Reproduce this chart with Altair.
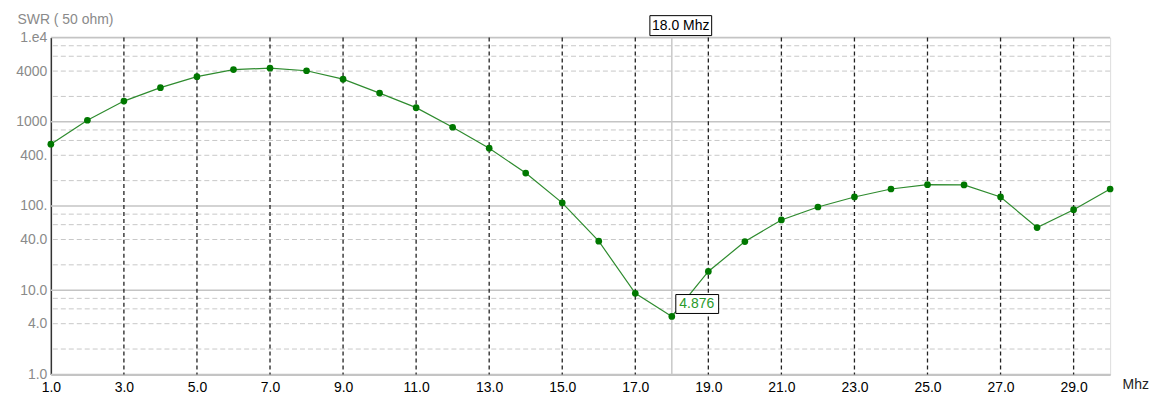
import altair as alt
import pandas as pd

# ---- data ----
freq = list(range(1, 31))
swr = [542, 1042, 1762, 2540, 3430, 4170, 4330, 4035, 3210, 2190,
       1472, 861, 486, 246, 109, 38.2, 9.17, 4.876, 16.7, 37.8,
       68.3, 97.2, 128, 159, 179, 178, 128, 55.4, 90.4, 159]

x_ticks = [1, 3, 5, 7, 9, 11, 13, 15, 17, 19, 21, 23, 25, 27, 29]
y_ticks = [1, 4, 10, 40, 100, 400, 1000, 4000, 10000]
y_tick_labels = ["1.0", "4.0", "10.0", "40.0", "100.", "400.", "1000", "4000", "1.e4"]
decade_lines = [1, 10, 100, 1000, 10000]
minor_lines = [m * d for d in [1, 10, 100, 1000] for m in [2, 4, 6, 8]]
vgrid = [3, 5, 7, 9, 11, 13, 15, 17, 19, 21, 23, 25, 27, 29]
cursor_freq = 18.0
cursor_swr = 4.876

W, H = 1063, 338

df = pd.DataFrame({"f": freq, "swr": swr})
xs = alt.Scale(domain=[1, 30], nice=False, zero=False)
ys = alt.Scale(type="log", domain=[1, 10000], nice=False)

ylab_expr = "".join(
    f"datum.value == {v} ? '{l}' : " for v, l in zip(y_ticks, y_tick_labels)
) + "''"

base_x = alt.X("f:Q", scale=xs, axis=alt.Axis(
    values=x_ticks, format=".1f", grid=False, ticks=False,
    labelColor="#000000", labelFont="Liberation Sans", labelFontSize=14,
    labelPadding=6, labelBaseline="top", labelFlush=False,
    domainColor="#b4b4b4", domainWidth=1.5,
    title="Mhz", titleFont="Liberation Sans", titleFontSize=14,
    titleFontWeight="normal", titleColor="#222222",
    titleX=1075, titleY=10, titleAlign="left", titleBaseline="middle"))
base_y = alt.Y("swr:Q", scale=ys, axis=alt.Axis(
    values=y_ticks, labelExpr=ylab_expr, grid=False, ticks=False,
    labelColor="#8a8a8a", labelFont="Liberation Sans", labelFontSize=14,
    labelPadding=4, labelFlush=False,
    domainColor="#333333", domainWidth=1.5,
    title="SWR ( 50 ohm)", titleFont="Liberation Sans", titleFontSize=14,
    titleFontWeight="normal", titleColor="#8a8a8a", titleAngle=0,
    titleX=-34, titleY=-18, titleAlign="left", titleBaseline="middle"))

minor = alt.Chart(pd.DataFrame({"v": minor_lines})).mark_rule(
    color="#c8c8c8", strokeWidth=1, strokeDash=[5, 3]
).encode(y=alt.Y("v:Q", scale=ys))
major = alt.Chart(pd.DataFrame({"v": decade_lines})).mark_rule(
    color="#c4c4c4", strokeWidth=1.5
).encode(y=alt.Y("v:Q", scale=ys))
vlines = alt.Chart(pd.DataFrame({"v": vgrid})).mark_rule(
    color="#222222", strokeWidth=1.3, strokeDash=[4, 3]
).encode(x=alt.X("v:Q", scale=xs))
cursor = alt.Chart(pd.DataFrame({"v": [cursor_freq]})).mark_rule(
    color="#c8c8c8", strokeWidth=1.5
).encode(x=alt.X("v:Q", scale=xs))

line = alt.Chart(df).mark_line(color="#2e8b2e", strokeWidth=1.2).encode(x=base_x, y=base_y)
pts = alt.Chart(df).mark_point(filled=True, color="#007800", size=45, opacity=1).encode(
    x=alt.X("f:Q", scale=xs), y=alt.Y("swr:Q", scale=ys))

cdf = pd.DataFrame({"f": [cursor_freq], "swr": [cursor_swr],
                    "ftxt": [f"{cursor_freq:.1f} Mhz"], "stxt": [f"{cursor_swr:.3f}"]})

top_box = alt.Chart(cdf).mark_rect(
    fill="white", stroke="black", strokeWidth=1, xOffset=-22, x2Offset=40
).encode(x=alt.X("f:Q", scale=xs), x2="f:Q", y=alt.value(-22), y2=alt.value(-2))
top_txt = alt.Chart(cdf).mark_text(
    font="Liberation Sans", fontSize=14, color="black", dx=9, baseline="middle"
).encode(x=alt.X("f:Q", scale=xs), y=alt.value(-12), text="ftxt:N")

val_box = alt.Chart(cdf).mark_rect(
    fill="white", stroke="black", strokeWidth=1,
    xOffset=4, x2Offset=47, yOffset=-22, y2Offset=-3
).encode(x=alt.X("f:Q", scale=xs), x2="f:Q",
         y=alt.Y("swr:Q", scale=ys), y2="swr:Q")
val_txt = alt.Chart(cdf).mark_text(
    font="Liberation Sans", fontSize=14, color="#2a9a2a", dx=25, dy=-12, baseline="middle"
).encode(x=alt.X("f:Q", scale=xs), y=alt.Y("swr:Q", scale=ys), text="stxt:N")

chart = alt.layer(
    minor, major, vlines, cursor, line, pts, val_box, val_txt, top_box, top_txt
).properties(
    width=W, height=H,
    autosize=alt.AutoSizeParams(type="none"),
    padding={"left": 43, "top": 29, "right": 39, "bottom": 20},
).configure_view(stroke=None).configure(background="white")

chart.save("out.html", embed_options={"renderer": "svg", "actions": False})
